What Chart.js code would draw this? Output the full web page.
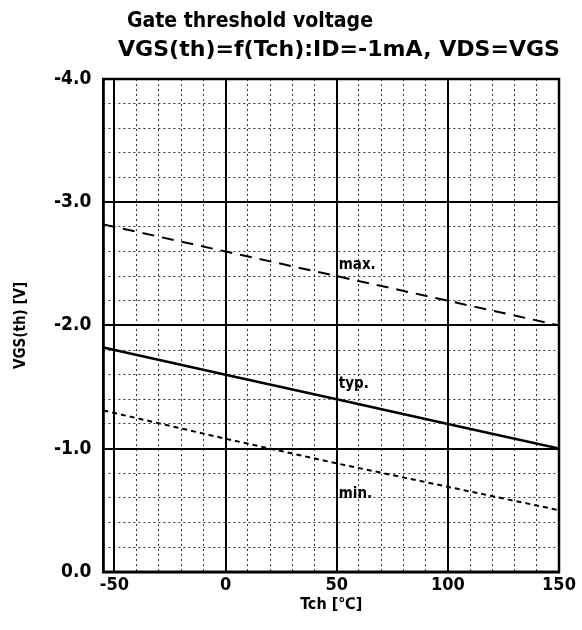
<!DOCTYPE html>
<html>
<head>
<meta charset="utf-8">
<script src="https://cdn.jsdelivr.net/npm/chart.js@4.4.1/dist/chart.umd.min.js"></script>
<style>
  html, body { margin: 0; padding: 0; background: #fff; }
  #wrap { width: 582px; height: 630px; }
</style>
</head>
<body>
<div id="wrap"><canvas id="chart" width="582" height="630"></canvas></div>
<script>
// channel temperature (degC) and threshold voltage (V)
const temps  = [-55, 0, 50, 100, 150];
const vthMax = [-2.82, -2.60, -2.40, -2.20, -2.00];
const vthTyp = [-1.82, -1.60, -1.40, -1.20, -1.00];
const vthMin = [-1.31, -1.08, -0.88, -0.69, -0.50];

const curveNames = ['max.', 'typ.', 'min.'];
const curveNameAt = [-2.49, -1.52, -0.63]; // V, where each name sits next to the 50 degC line

const titleLines = ['Gate threshold voltage', 'VGS(th)=f(Tch):ID=-1mA, VDS=VGS'];
const xLabel = 'Tch [\u2103]';
const yLabel = 'VGS(th) [V]';

const FONT = "'DejaVu Sans Condensed', 'Liberation Sans', sans-serif";

function toPoints(ys) {
    return temps.map(function(t, i) { return { x: t, y: ys[i] }; });
}

// title text, squeezed/stretched to the width it has on the original
const titlePlugin = {
    id: 'titles',
    afterDraw: function(chart) {
        const ctx = chart.ctx;
        const spec = [
            { text: titleLines[0], x: 127, y: 27, w: 246 },
            { text: titleLines[1], x: 118, y: 56, w: 442 }
        ];
        ctx.save();
        ctx.fillStyle = '#000';
        ctx.font = 'bold 22px ' + FONT;
        ctx.textBaseline = 'alphabetic';
        spec.forEach(function(s) {
            const m = ctx.measureText(s.text).width;
            ctx.save();
            ctx.translate(s.x, s.y);
            ctx.scale(s.w / m, 1);
            ctx.fillText(s.text, 0, 0);
            ctx.restore();
        });
        ctx.restore();
    }
};

// heavy frame round the plot
const framePlugin = {
    id: 'frame',
    afterDatasetsDraw: function(chart) {
        const a = chart.chartArea;
        const ctx = chart.ctx;
        ctx.save();
        ctx.strokeStyle = '#000';
        ctx.lineWidth = 2.5;
        ctx.strokeRect(a.left, a.top, a.right - a.left, a.bottom - a.top);
        ctx.restore();
    }
};

// max./typ./min. words beside the curves
const curveNamePlugin = {
    id: 'curveNames',
    afterDatasetsDraw: function(chart) {
        const ctx = chart.ctx;
        const xs = chart.scales.x, ys = chart.scales.y;
        ctx.save();
        ctx.fillStyle = '#000';
        ctx.font = 'bold 15px ' + FONT;
        ctx.textBaseline = 'middle';
        ctx.textAlign = 'left';
        curveNames.forEach(function(n, i) {
            ctx.fillText(n, xs.getPixelForValue(50) + 2, ys.getPixelForValue(curveNameAt[i]));
        });
        ctx.restore();
    }
};

const ctx = document.getElementById('chart').getContext('2d');
new Chart(ctx, {
    type: 'line',
    data: {
        datasets: [
            { label: 'max.', data: toPoints(vthMax), borderColor: '#000', borderWidth: 2, borderDash: [12, 8], pointRadius: 0, fill: false },
            { label: 'typ.', data: toPoints(vthTyp), borderColor: '#000', borderWidth: 2.5, pointRadius: 0, fill: false },
            { label: 'min.', data: toPoints(vthMin), borderColor: '#000', borderWidth: 2, borderDash: [5, 4], pointRadius: 0, fill: false }
        ]
    },
    options: {
        responsive: false,
        animation: false,
        layout: { padding: { top: 79, right: 23, left: 12, bottom: 16 } },
        plugins: { legend: { display: false }, tooltip: { enabled: false }, title: { display: false } },
        scales: {
            xMinor: {
                type: 'linear', position: 'top', min: -55, max: 150,
                ticks: { display: false, stepSize: 10, includeBounds: false },
                grid: { color: '#333', lineWidth: 1, drawTicks: false, borderDash: [2, 3] },
                border: { display: false, dash: [2, 3] }
            },
            yMinor: {
                type: 'linear', position: 'right', min: -4, max: 0, reverse: true,
                ticks: { display: false, stepSize: 0.2, includeBounds: false },
                grid: { color: '#333', lineWidth: 1, drawTicks: false, borderDash: [2, 3] },
                border: { display: false, dash: [2, 3] }
            },
            x: {
                type: 'linear', position: 'bottom', min: -55, max: 150,
                ticks: {
                    stepSize: 50, includeBounds: false, color: '#000', padding: 5,
                    font: { family: FONT, size: 18, weight: 'bold', lineHeight: 1 }
                },
                grid: { color: '#000', lineWidth: 2, drawTicks: false },
                border: { color: '#000', width: 2.5 },
                title: {
                    display: true, text: xLabel, color: '#000', padding: { top: -5, bottom: 0 },
                    font: { family: FONT, size: 16, weight: 'bold' }
                }
            },
            y: {
                type: 'linear', position: 'left', min: -4, max: 0, reverse: true,
                ticks: {
                    stepSize: 1, includeBounds: false, color: '#000', padding: 12,
                    font: { family: FONT, size: 19, weight: 'bold' },
                    callback: function(v) { return v.toFixed(1); }
                },
                grid: { color: '#000', lineWidth: 2, drawTicks: false },
                border: { color: '#000', width: 2.5 },
                title: {
                    display: true, text: yLabel, color: '#000', padding: { top: 0, bottom: 12 },
                    font: { family: FONT, size: 15, weight: 'bold' }
                }
            }
        }
    },
    plugins: [titlePlugin, framePlugin, curveNamePlugin]
});
</script>
</body>
</html>
